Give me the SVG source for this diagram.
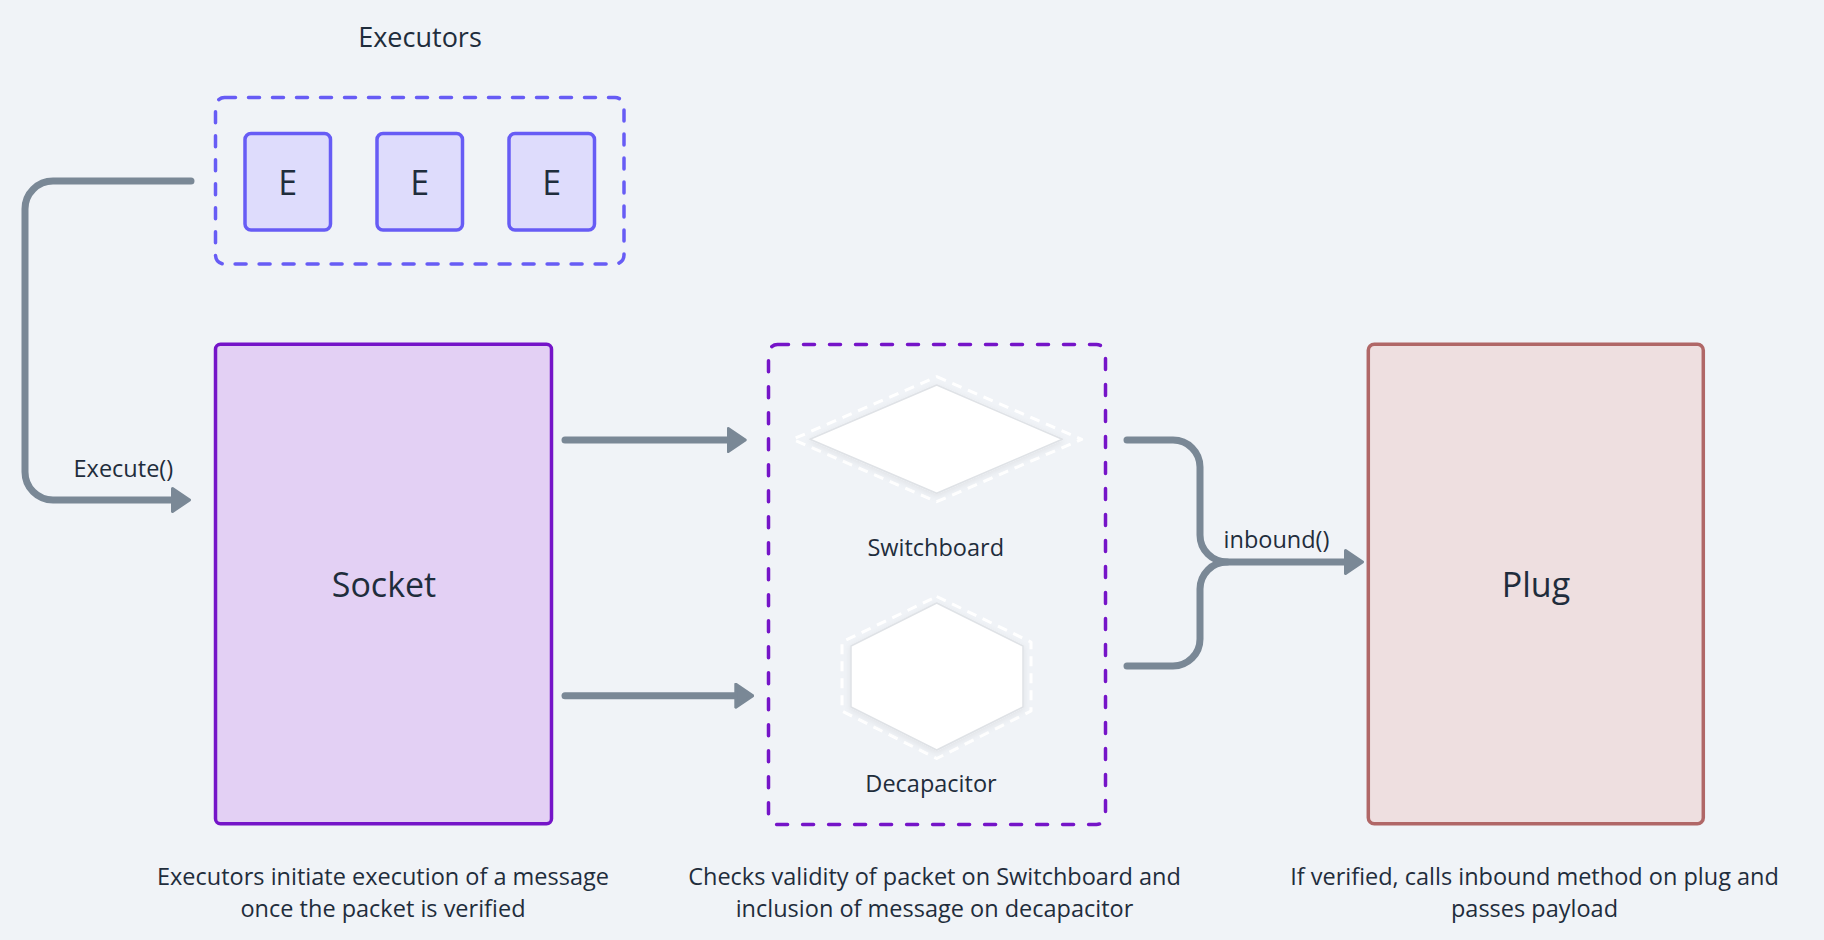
<svg xmlns="http://www.w3.org/2000/svg" width="1824" height="940" viewBox="0 0 1824 940">
<defs>
<style>
text{font-family:"Open Sans","Noto Sans","Liberation Sans",sans-serif;fill:#1f2d3c;text-anchor:middle;font-weight:500}
.lbl{font-size:23.5px}
.cap{font-size:23.5px}
.big{font-size:34px}
.conn{fill:none;stroke:#7a8896;stroke-width:7;stroke-linecap:round;stroke-linejoin:round}
.ebox{fill:#dedcfc;stroke:#675cf5;stroke-width:3.5}
.ghost{fill:none;stroke:#ffffff;stroke-width:3;stroke-dasharray:10 7;stroke-linejoin:round}
.white{fill:#ffffff;stroke:#dfe2e6;stroke-width:1.5;stroke-linejoin:round}
</style>
<marker id="arr" viewBox="0 0 20 26" refX="9" refY="13" markerWidth="20" markerHeight="26" markerUnits="userSpaceOnUse" orient="auto">
<path d="M1.5,1.5 L18.5,13 L1.5,24.5 Z" fill="#7a8896" stroke="#7a8896" stroke-width="3" stroke-linejoin="round"/>
</marker>
<filter id="sh" x="-20%" y="-20%" width="140%" height="140%">
<feDropShadow dx="0" dy="2" stdDeviation="3" flood-color="#000" flood-opacity="0.07"/>
</filter>
</defs>
<rect width="1824" height="940" fill="#f0f3f7"/>

<g id="executors">
<text x="420" y="46.5" style="font-size:27px">Executors</text>
<rect x="215.5" y="97.5" width="408.5" height="166.5" rx="9" fill="none" stroke="#675cf5" stroke-width="3.5" stroke-dasharray="11 13" stroke-linecap="round"/>
</g>
<g id="executor-1">
<rect class="ebox" x="245" y="133.5" width="85.5" height="96.5" rx="6"/>
<text x="287.7" y="195" class="big">E</text>
</g>
<g id="executor-2">
<rect class="ebox" x="377" y="133.5" width="85.5" height="96.5" rx="6"/>
<text x="419.7" y="195" class="big">E</text>
</g>
<g id="executor-3">
<rect class="ebox" x="509" y="133.5" width="85.5" height="96.5" rx="6"/>
<text x="551.7" y="195" class="big">E</text>
</g>

<g id="socket">
<rect x="215.5" y="344.3" width="336" height="479.5" rx="5" fill="#e3d0f4" stroke="#7514c8" stroke-width="3.5"/>
<text x="384" y="597" class="big">Socket</text>
</g>

<g id="verification">
<rect x="768.5" y="344.5" width="337" height="480" rx="9" fill="none" stroke="#7514c8" stroke-width="3.5" stroke-dasharray="11 15" stroke-linecap="round"/>
</g>
<g id="switchboard">
<polygon class="ghost" points="936.7,376.7 1081.7,439.3 936.7,501.7 792.7,439.3"/>
<polygon class="white" filter="url(#sh)" points="936.7,385 1062.3,439.3 936.7,493.3 810,439.3"/>
<text x="935.7" y="556" class="lbl">Switchboard</text>
</g>
<g id="decapacitor">
<polygon class="ghost" points="936.7,596.5 1031,642 1031,711 936.7,758.5 842,711 842,642"/>
<polygon class="white" filter="url(#sh)" points="936.7,603 1023,646 1023,707 936.7,750 851,707 851,646"/>
<text x="931" y="791.7" class="lbl">Decapacitor</text>
</g>

<g id="plug">
<rect x="1368.3" y="344.3" width="335" height="479.5" rx="6" fill="#eedfe0" stroke="#b06767" stroke-width="3.5"/>
<text x="1536" y="597" class="big">Plug</text>
</g>

<g id="connectors">
<path class="conn" d="M191,181 H53 A28 28 0 0 0 25 209 V472 A28 28 0 0 0 53 500 H180" marker-end="url(#arr)"/>
<text x="123.4" y="477.3" class="lbl">Execute()</text>
<path class="conn" d="M565,440 H735.7" marker-end="url(#arr)"/>
<path class="conn" d="M565,695.7 H743.3" marker-end="url(#arr)"/>
<path class="conn" d="M1127,440 H1173 A27 27 0 0 1 1200 467 V535 A27 27 0 0 0 1227 562 H1353" marker-end="url(#arr)"/>
<path class="conn" d="M1127,666 H1173 A27 27 0 0 0 1200 639 V589 A27 27 0 0 1 1227 562"/>
<text x="1276.5" y="548.3" class="lbl">inbound()</text>
</g>

<g id="captions">
<text x="383" y="885" class="cap">Executors initiate execution of a message</text>
<text x="383" y="916.7" class="cap">once the packet is verified</text>
<text x="934.5" y="885" class="cap">Checks validity of packet on Switchboard and</text>
<text x="934.5" y="916.7" class="cap">inclusion of message on decapacitor</text>
<text x="1534.5" y="885" class="cap">If verified, calls inbound method on plug and</text>
<text x="1534.5" y="916.7" class="cap">passes payload</text>
</g>
</svg>
